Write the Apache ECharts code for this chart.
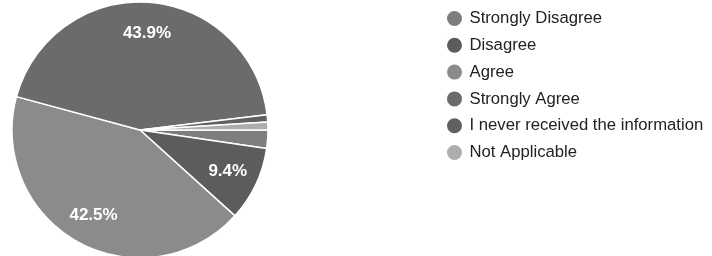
<!DOCTYPE html>
<html style="height: 100%">
<head>
    <meta charset="utf-8">
</head>
<body style="height: 100%; margin: 0; background: #fff">
<div id="container" style="width: 712px; height: 256px"></div>
<script type="text/javascript" src="https://cdn.jsdelivr.net/npm/echarts@6/dist/echarts.min.js"></script>
<script type="text/javascript">
    var categories = ['Strongly Disagree', 'Disagree', 'Agree', 'Strongly Agree', 'I never received the information', 'Not Applicable'];
    var percents = [2.3, 9.4, 42.5, 43.9, 0.9, 1.0];
    var colors = ['#7e7e7e', '#5c5c5c', '#8b8b8b', '#6b6b6b', '#606060', '#adadad'];

    var pieData = [];
    for (var i = 0; i < categories.length; i++) {
        pieData.push({name: categories[i], value: percents[i], itemStyle: {color: colors[i]}});
    }
    // same slices, invisible, only to carry the % labels further out
    var labelData = [];
    for (var j = 0; j < categories.length; j++) {
        labelData.push({name: categories[j], value: percents[j]});
    }

    var dom = document.getElementById("container");
    var myChart = echarts.init(dom);
    var option = {
        animation: false,
        legend: {
            orient: 'vertical',
            left: 440,
            top: 4,
            icon: 'circle',
            itemWidth: 20,
            itemHeight: 17,
            itemGap: 7.8,
            data: categories,
            textStyle: {
                fontFamily: 'Liberation Sans, Arial, sans-serif',
                fontSize: 16.7,
                lineHeight: 17,
                color: '#222'
            }
        },
        series: [
            {
                name: 'main',
                type: 'pie',
                center: [140, 130],
                radius: [0, 128],
                startAngle: 0,
                avoidLabelOverlap: false,
                itemStyle: {borderColor: '#fff', borderWidth: 1.5},
                label: {show: false},
                labelLine: {show: false},
                data: pieData
            },
            {
                name: 'labels',
                type: 'pie',
                silent: true,
                center: [140, 130],
                radius: [60, 128],
                startAngle: 0,
                avoidLabelOverlap: false,
                itemStyle: {color: 'rgba(0,0,0,0)', borderWidth: 0},
                label: {
                    show: true,
                    position: 'inside',
                    color: '#fff',
                    fontFamily: 'Liberation Sans, Arial, sans-serif',
                    fontWeight: 'bold',
                    fontSize: 17,
                    formatter: function (p) {
                        return p.value >= 5 ? p.value.toFixed(1) + '%' : '';
                    }
                },
                labelLine: {show: false},
                data: labelData
            }
        ]
    };
    myChart.setOption(option);
</script>
</body>
</html>
